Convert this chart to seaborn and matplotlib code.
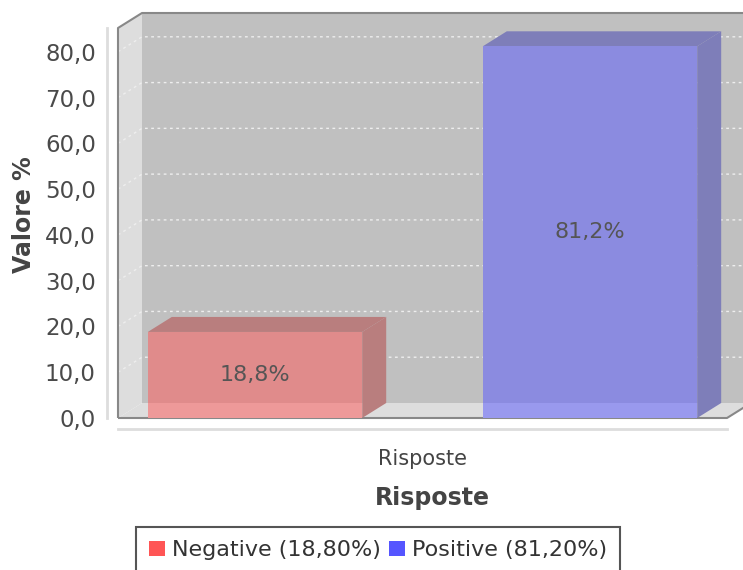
from matplotlib import pyplot as plt
from matplotlib.patches import Polygon, Patch
from matplotlib.lines import Line2D
from matplotlib.transforms import IdentityTransform
import matplotlib.colors as mcolors
import numpy as np
import pandas as pd
import seaborn as sns

# dati del grafico
category = ["Risposte"]
series = ["Negative", "Positive"]
values = [18.8, 81.2]
series_colors = ["#ff5555", "#5555ff"]
y_ticks = [0, 10, 20, 30, 40, 50, 60, 70, 80]

WALL = "#c0c0c0"
SIDE = "#dddddd"
DX, DY = 24, 15  # profondita 3D in pixel


def blend(color, bg, alpha=0.5):
    c = np.array(mcolors.to_rgb(color))
    b = np.array(mcolors.to_rgb(bg))
    return tuple(alpha * c + (1 - alpha) * b)


def darker(color):
    return tuple(np.array(mcolors.to_rgb(color)) * 0.7)


def comma(v, fmt):
    return format(v, fmt).replace(".", ",")


df = pd.DataFrame({"cat": category * len(series), "serie": series, "valore": values})

sns.set_style("white")
plt.rcParams["font.family"] = ["DejaVu Sans"]

fig = plt.figure(figsize=(7.43, 5.70), dpi=100)
ax = fig.add_axes([118 / 743, 1 - 418 / 570, 609 / 743, 390 / 570])
ax.set_facecolor("none")

front = [blend(c, WALL) for c in series_colors]
sns.barplot(data=df, x="cat", y="valore", hue="serie", palette=front, width=0.8,
            gap=0.36, saturation=1, linewidth=0, legend=False, ax=ax)
ax.set_xlim(-0.3636, 0.3636)
ax.set_ylim(0, 85.2)
xmin, xmax = ax.get_xlim()
ymax = ax.get_ylim()[1]


def P(x, y, depth=False):
    px, py = ax.transData.transform((x, y))
    if depth:
        return (px + DX, py + DY)
    return (px, py)


def face(points, color, z):
    ax.add_artist(Polygon(points, closed=True, facecolor=color, edgecolor="none",
                          transform=IdentityTransform(), clip_on=False, zorder=z))


def line(points, color, z, lw=1.5, ls="-"):
    xs, ys = zip(*points)
    ax.add_artist(Line2D(xs, ys, color=color, lw=lw, ls=ls, transform=IdentityTransform(),
                         clip_on=False, zorder=z, solid_capstyle="butt"))


# pareti e pavimento
face([P(xmin, 0, True), P(xmax, 0, True), P(xmax, ymax, True), P(xmin, ymax, True)], WALL, 0.5)
face([P(xmin, 0), P(xmin, ymax), P(xmin, ymax, True), P(xmin, 0, True)], SIDE, 0.6)
face([P(xmin, 0), P(xmax, 0), P(xmax, 0, True), P(xmin, 0, True)], SIDE, 0.6)

# griglia
for t in y_ticks[1:]:
    line([P(xmin, t), P(xmin, t, True), P(xmax, t, True)], "#eeeeee", 1, lw=1, ls=(0, (2, 2.5)))

# bordi
line([P(xmin, 0), P(xmin, ymax), P(xmin, ymax, True), P(xmax, ymax, True)], "#888888", 1.5)
line([P(xmin, 0), P(xmax, 0), P(xmax, 0, True)], "#888888", 1.5)

# barre 3D
for bar, col, v in zip(ax.patches, series_colors, values):
    x0 = bar.get_x()
    x1 = x0 + bar.get_width()
    h = bar.get_height()
    bar.set_zorder(4)
    face([P(x1, 0), P(x1, h), P(x1, h, True), P(x1, 0, True)], blend(darker(col), WALL), 3)
    face([P(x0, h), P(x1, h), P(x1, h, True), P(x0, h, True)], blend(darker(col), WALL), 3)
    px0, py0 = P(x0, 0)
    px1, _ = P(x1, 0)
    face([(px0, py0), (px1, py0), (px1, py0 + DY), (px0, py0 + DY)], blend(col, SIDE), 4.1)
    ax.text(x0 + bar.get_width() / 2, h / 2, comma(v, ".1f") + "%", ha="center", va="center",
            fontsize=16, color="#555555", zorder=6)

# assi
for s in ["top", "right"]:
    ax.spines[s].set_visible(False)
for s in ["left", "bottom"]:
    ax.spines[s].set_position(("outward", 8))
    ax.spines[s].set_color("#dddddd")
    ax.spines[s].set_linewidth(2)
ax.spines["left"].set_bounds(0, ymax)

ax.set_yticks(y_ticks)
ax.set_yticklabels([comma(t, ".1f") for t in y_ticks])
ax.tick_params(axis="y", length=4, width=1, color="#999999", labelsize=16.5, labelcolor="#4a4a4a", pad=4)
ax.tick_params(axis="x", length=4, width=1, color="#999999", labelsize=15, labelcolor="#444444", pad=10)

ax.set_ylabel("Valore %", fontsize=17, fontweight="bold", color="#444444")
ax.yaxis.set_label_coords(-0.134, 0.5205)
ax.set_xlabel("Risposte", fontsize=17, fontweight="bold", color="#444444")
ax.xaxis.set_label_coords(0.517, -0.174)

# legenda
handles = [Patch(facecolor=c, edgecolor="none") for c in series_colors]
labels = [f"{s} ({comma(v, '.2f')}%)" for s, v in zip(series, values)]
leg = fig.legend(handles, labels, loc="upper center", bbox_to_anchor=(378 / 743, 1 - 527 / 570),
                 ncol=2, frameon=True, fancybox=False, edgecolor="#555555", framealpha=1,
                 handlelength=0.7, handleheight=0.7, handletextpad=0.3, columnspacing=0.4,
                 borderpad=0.6, borderaxespad=0, fontsize=16)
leg.get_frame().set_linewidth(1.5)
for t in leg.get_texts():
    t.set_color("#333333")

fig.savefig("out.png", dpi=100)
